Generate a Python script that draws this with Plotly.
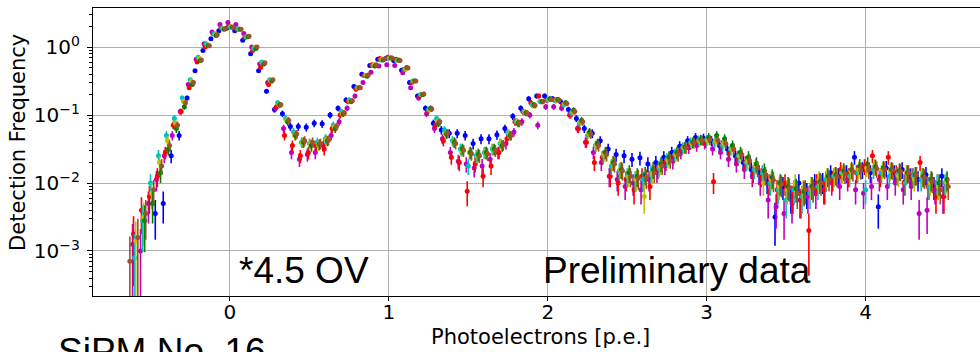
import numpy as np
import plotly.graph_objects as go

# Bin centres (p.e.) shared by all channels
X_BINS = [round(-0.65 + 0.05 * i, 2) for i in range(104)]

# Per-channel bin-centre offsets (p.e.)
X_SHIFT = {"blue": -0.02, "magenta": -0.013, "red": -0.007, "cyan": 0.0,
           "yellow": 0.007, "green": 0.013, "brown": 0.02}

# Detection frequency as log10 values
BLUE_LOG10 = [None, None, None, None, -2.45, -2.3, -1.6, -1.3, -0.75, -0.35, -0.05, 0.12, 0.24,
              0.28, 0.24, 0.1, -0.1, -0.35, -0.65, -0.92, -0.98, -1.17, -1.17, -1.18, -1.12, -1.13,
              -1.0, -0.9, -0.78, -0.58, -0.4, -0.27, -0.18, -0.17, -0.2, -0.34, -0.52, -0.72, -0.9,
              -1.12, -1.22, -1.27, -1.27, -1.3, -1.42, -1.35, -1.35, -1.29, -1.2, -1.02, -0.9, -0.76,
              -0.72, -0.72, -0.76, -0.8, -0.92, -1.05, -1.2, -1.27, -1.38, -1.5, -1.58, -1.6, -1.65,
              -1.63, -1.72, -1.7, -1.62, -1.55, -1.46, -1.38, -1.33, -1.34, -1.38, -1.45, -1.5, -1.6,
              -1.7, -1.8, -1.85, -1.98, -2.5, -2.05, -2.2, -2.0, -2.15, -2.0, -1.98, -1.85, -1.9,
              -1.85, -1.62, -1.8, -1.85, -2.35, -1.78, -1.85, -1.8, -1.9, -1.95, -1.88, -2.05, -1.9]
MAGENTA_LOG10 = [None, -2.9, -3.0, -2.3, -1.95, -1.6, -1.3, -0.95, -0.55, -0.18, 0.05, 0.22, 0.33,
                 0.36, 0.33, 0.2, 0.0, -0.25, -0.52, -0.9, -1.2, -1.55, -1.65, -1.58, -1.55, -1.45,
                 -1.3, -1.1, -0.9, -0.72, -0.52, -0.37, -0.28, -0.26, -0.27, -0.38, -0.6, -0.75, -0.98,
                 -1.2, -1.35, -1.55, -1.68, -1.72, -1.78, -1.75, -1.65, -1.55, -1.42, -1.25, -1.1, -1.0,
                 -1.15, -0.88, -0.88, -0.9, -1.0, -1.2, -1.4, -1.55, -1.7, -1.9, -1.95, -2.05, -2.0,
                 -2.1, -1.95, -1.85, -1.75, -1.68, -1.55, -1.48, -1.45, -1.42, -1.5, -1.55, -1.65, -1.72,
                 -1.8, -1.9, -2.0, -2.25, -2.35, -2.45, -2.3, -2.25, -2.2, -2.15, -2.1, -2.0, -2.05,
                 -1.95, -2.1, -2.15, -2.05, -1.95, -2.05, -2.0, -2.1, -2.05, -2.45, -2.4, -2.1, -2.2]
RED_LOG10 = [None, -2.75, -2.4, -2.2, -1.9, -1.55, -1.15, -0.95, -0.6, -0.22, 0.0, 0.2, 0.28,
             0.31, 0.26, 0.14, -0.05, -0.3, -0.55, -0.88, -1.3, -1.45, -1.6, -1.55, -1.45, -1.5,
             -1.2, -1.0, -0.8, -0.62, -0.42, -0.26, -0.17, -0.15, -0.18, -0.33, -0.52, -0.72, -0.95,
             -1.15, -1.38, -1.62, -1.7, -2.12, -1.72, -1.9, -1.75, -1.55, -1.35, -1.1, -0.95, -0.82,
             -0.72, -0.78, -0.78, -0.85, -1.0, -1.2, -1.4, -1.7, -1.62, -1.9, -2.0, -1.95, -2.1,
             -1.9, -2.05, -1.8, -1.7, -1.6, -1.5, -1.42, -1.38, -1.4, -1.98, -1.45, -1.55, -1.62,
             -1.7, -1.85, -1.9, -2.0, -2.1, -2.0, -2.2, -2.25, -2.7, -2.0, -2.1, -1.95, -1.8,
             -1.9, -1.85, -1.75, -1.6, -1.9, -1.62, -1.85, -2.0, -1.9, -1.7, -2.05, -2.2, -2.2]
CYAN_LOG10 = [None, -3.1, -2.55, -2.0, -1.6, -1.3, -1.05, -0.75, -0.48, -0.15, 0.05, 0.2, 0.28,
              0.3, 0.27, 0.15, -0.02, -0.22, -0.48, -0.82, -1.05, -1.25, -1.4, -1.42, -1.4, -1.35,
              -1.15, -0.95, -0.78, -0.6, -0.42, -0.27, -0.19, -0.16, -0.2, -0.33, -0.5, -0.7, -0.92,
              -1.05, -1.22, -1.38, -1.5, -1.75, -1.6, -1.55, -1.5, -1.42, -1.27, -1.1, -0.95, -0.85,
              -0.8, -0.78, -0.79, -0.85, -0.97, -1.12, -1.3, -1.45, -1.6, -1.75, -1.82, -1.9, -1.95,
              -1.95, -1.85, -1.78, -1.65, -1.58, -1.48, -1.4, -1.37, -1.36, -1.4, -1.45, -1.5, -1.6,
              -1.7, -1.8, -1.85, -2.0, -2.1, -2.25, -2.1, -2.2, -2.15, -2.05, -1.95, -1.9, -1.85,
              -1.9, -1.85, -2.1, -1.8, -1.85, -1.9, -1.88, -2.0, -1.9, -1.95, -2.05, -2.0, -2.0]
YELLOW_LOG10 = [None, -2.85, -2.5, -2.15, -1.7, -1.38, -1.12, -0.8, -0.5, -0.17, 0.03, 0.18, 0.27,
                0.3, 0.26, 0.15, 0.0, -0.24, -0.5, -0.85, -1.08, -1.3, -1.4, -1.42, -1.44, -1.36,
                -1.18, -0.98, -0.8, -0.6, -0.42, -0.26, -0.18, -0.16, -0.2, -0.32, -0.5, -0.7, -0.92,
                -1.1, -1.28, -1.4, -1.52, -1.55, -1.6, -1.55, -1.5, -1.42, -1.28, -1.1, -0.96, -0.86,
                -0.8, -0.77, -0.78, -0.83, -0.95, -1.1, -1.27, -1.45, -1.58, -1.7, -1.8, -1.9, -1.95,
                -2.2, -1.85, -1.75, -1.66, -1.58, -1.48, -1.42, -1.38, -1.37, -1.38, -1.42, -1.5, -1.6,
                -1.68, -1.75, -2.0, -1.95, -2.05, -2.1, -2.0, -2.1, -2.05, -1.95, -1.9, -1.88, -1.85,
                -1.82, -1.8, -1.78, -1.75, -1.8, -1.82, -1.9, -1.85, -1.95, -1.9, -2.0, -2.05, -1.98]
GREEN_LOG10 = [None, None, -2.55, -2.3, -1.85, -1.5, -1.2, -0.88, -0.55, -0.2, 0.02, 0.17, 0.26,
               0.29, 0.26, 0.15, -0.02, -0.25, -0.5, -0.85, -1.1, -1.3, -1.4, -1.45, -1.43, -1.38,
               -1.2, -0.98, -0.8, -0.6, -0.43, -0.28, -0.19, -0.16, -0.19, -0.3, -0.5, -0.7, -0.9,
               -1.12, -1.28, -1.4, -1.5, -1.55, -1.58, -1.55, -1.5, -1.45, -1.3, -1.12, -0.97, -0.85,
               -0.8, -0.76, -0.77, -0.82, -0.93, -1.08, -1.25, -1.42, -1.55, -1.7, -1.8, -1.85, -1.9,
               -1.88, -1.8, -1.72, -1.62, -1.55, -1.47, -1.4, -1.36, -1.33, -1.3, -1.35, -1.45, -1.55,
               -1.62, -1.72, -1.82, -1.92, -2.0, -2.05, -2.08, -2.12, -2.05, -1.98, -1.9, -1.88, -1.82,
               -1.8, -1.75, -1.72, -1.76, -1.78, -1.8, -1.82, -1.85, -1.88, -1.9, -1.95, -2.0, -1.95]
BROWN_LOG10 = [-3.15, -2.8, -2.45, -2.1, -1.75, -1.45, -1.15, -0.82, -0.52, -0.19, 0.02, 0.18, 0.27,
               0.29, 0.26, 0.16, 0.0, -0.23, -0.48, -0.85, -1.08, -1.28, -1.38, -1.4, -1.42, -1.37,
               -1.17, -0.97, -0.79, -0.6, -0.41, -0.26, -0.18, -0.16, -0.2, -0.31, -0.5, -0.69, -0.91,
               -1.1, -1.27, -1.42, -1.52, -1.57, -1.6, -1.57, -1.52, -1.44, -1.3, -1.12, -0.97, -0.86,
               -0.8, -0.77, -0.78, -0.83, -0.95, -1.1, -1.28, -1.45, -1.58, -1.72, -1.82, -1.9, -1.93,
               -1.92, -1.85, -1.75, -1.67, -1.58, -1.48, -1.41, -1.37, -1.36, -1.37, -1.42, -1.5, -1.58,
               -1.67, -1.78, -1.88, -1.96, -2.02, -2.07, -2.15, -2.1, -2.08, -2.0, -1.95, -1.9, -1.86,
               -1.83, -1.81, -1.8, -1.79, -1.8, -1.81, -1.83, -1.85, -1.88, -1.92, -1.97, -2.1, -2.05]

SERIES = [("blue", BLUE_LOG10, "#0000ff"),
          ("magenta", MAGENTA_LOG10, "#bf00bf"),
          ("red", RED_LOG10, "#ff0000"),
          ("cyan", CYAN_LOG10, "#00bfbf"),
          ("yellow", YELLOW_LOG10, "#bfbf00"),
          ("green", GREEN_LOG10, "#008000"),
          ("brown", BROWN_LOG10, "#a0522d")]

ERR_SCALE = 0.035  # Poisson-like statistical uncertainty scale

X_TICKS = [0, 1, 2, 3, 4]
Y_TICKS = [1e-3, 1e-2, 1e-1, 1e0]
Y_TICKTEXT = ["10<sup>−3</sup>", "10<sup>−2</sup>", "10<sup>−1</sup>", "10<sup>0</sup>"]
Y_MINOR = [m * 10.0 ** e for e in (-4, -3, -2, -1, 0) for m in range(2, 10)]

fig = go.Figure()
for name, logs, color in SERIES:
    xs, ys = [], []
    for xb, lv in zip(X_BINS, logs):
        if lv is None:
            continue
        xs.append(xb + X_SHIFT[name])
        ys.append(10 ** lv)
    ys = np.array(ys)
    err = ERR_SCALE * np.sqrt(ys)
    err_minus = np.minimum(err, 0.97 * ys)
    fig.add_trace(go.Scatter(
        x=xs, y=ys, mode="markers", name=name, showlegend=False,
        marker=dict(size=5, color=color),
        error_y=dict(type="data", symmetric=False, array=err, arrayminus=err_minus,
                     color=color, thickness=1.6, width=0),
    ))

tick_font = dict(family="DejaVu Sans", size=20, color="black")
label_font = dict(family="DejaVu Sans", size=21, color="black")
big_font = dict(family="Liberation Sans", size=37, color="black")
fig.update_layout(
    width=980, height=352,
    margin=dict(l=93, r=0, t=8, b=56),
    paper_bgcolor="white", plot_bgcolor="white",
    xaxis=dict(range=[-0.862, 4.72], tickvals=X_TICKS, ticktext=[str(v) for v in X_TICKS],
               showgrid=True, gridcolor="#b0b0b0", gridwidth=1, zeroline=False,
               showline=True, linecolor="black", linewidth=1.2, mirror=True,
               ticks="outside", ticklen=4, tickcolor="black", tickfont=tick_font,
               ticklabelstandoff=-6),
    yaxis=dict(type="log", range=[-3.662, 0.574], tickvals=Y_TICKS, ticktext=Y_TICKTEXT,
               showgrid=True, gridcolor="#b0b0b0", gridwidth=1, zeroline=False,
               showline=True, linecolor="black", linewidth=1.2, mirror=False,
               ticks="outside", ticklen=5, tickcolor="black", tickfont=tick_font,
               ticklabelstandoff=3,
               minor=dict(tickvals=Y_MINOR, ticks="outside", ticklen=3, tickcolor="black",
                          showgrid=False)),
    annotations=[
        dict(text="Detection Frequency", xref="paper", yref="paper", x=-0.0846, y=0.535,
             xanchor="center", yanchor="middle", textangle=-90, showarrow=False, font=label_font),
        dict(text="Photoelectrons [p.e.]", xref="paper", yref="paper", x=0.504, y=-0.142,
             xanchor="center", yanchor="middle", showarrow=False, font=label_font),
        dict(text="*4.5 OV", xref="paper", yref="paper", x=0.1624, y=0.09,
             xanchor="left", yanchor="middle", showarrow=False, font=big_font),
        dict(text="Preliminary data", xref="paper", yref="paper", x=0.505, y=0.09,
             xanchor="left", yanchor="middle", showarrow=False, font=big_font),
        dict(text="SiPM No. 16", xref="paper", yref="paper", x=-0.042, y=-0.194,
             xanchor="left", yanchor="middle", showarrow=False, font=big_font),
    ],
)

fig.write_html("out.html")
